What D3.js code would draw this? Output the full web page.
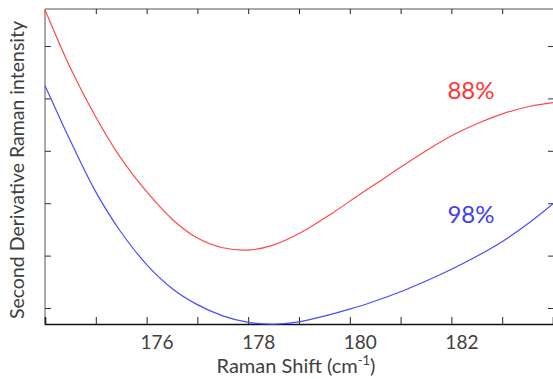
<!DOCTYPE html>
<html><head><meta charset="utf-8">
<script src="https://cdn.jsdelivr.net/npm/d3@7"></script>
<style>body{margin:0;background:#fff}svg{display:block}</style>
</head><body>
<script>
// Data (arbitrary intensity units)
const shift88 = [174.00,174.49,174.98,175.48,176.01,176.52,176.99,177.50,178.04,178.49,179.02,179.67,180.20,180.59,180.99,181.52,182.03,182.56,183.02,183.55,184.00];
const int88   = [5.69,4.60,3.68,2.88,2.21,1.68,1.34,1.15,1.11,1.20,1.43,1.82,2.17,2.42,2.68,3.01,3.30,3.54,3.71,3.85,3.92];
const shift98 = [174.00,174.10,174.49,174.98,175.48,176.01,176.52,176.99,177.50,177.98,178.49,178.96,179.55,180.00,180.40,181.05,181.72,182.37,183.02,183.55,184.00];
const int98   = [4.24,4.03,3.21,2.25,1.47,0.82,0.36,0.07,-0.15,-0.27,-0.31,-0.27,-0.14,-0.02,0.10,0.33,0.61,0.92,1.28,1.64,1.99];
const xTicks = [174,175,176,177,178,179,180,181,182,183,184];
const xTickLabels = [176,178,180,182];
const yTicks = [0,1,2,3,4,5];
const seriesNames = ["88%","98%"];

const W=553,H=379;
const svg=d3.select("body").append("svg").attr("width",W).attr("height",H);
const x=d3.scaleLinear().domain([174,184]).range([45,553]);
const y=d3.scaleLinear().domain([-0.305,5.706]).range([324,9]);
const font="Lato, 'Liberation Sans', sans-serif";

// frame lines
svg.append("line").attr("x1",45).attr("x2",553).attr("y1",y(5.706)).attr("y2",y(5.706)).attr("stroke","#8c8c8c").attr("stroke-width",1.5);
svg.append("line").attr("x1",45).attr("x2",45).attr("y1",9).attr("y2",324).attr("stroke","#8c8c8c").attr("stroke-width",1.5);

// bottom axis
const gx=svg.append("g").attr("transform","translate(0,324)")
  .call(d3.axisBottom(x).tickValues(xTicks).tickSize(-7).tickFormat(d=>xTickLabels.includes(d)?d:""));
gx.select(".domain").attr("stroke","#111").attr("stroke-width",1.6);
gx.selectAll(".tick line").attr("stroke","#222");
gx.selectAll(".tick text").attr("font-family",font).attr("font-size",19).attr("fill","#404040")
  .attr("dx",10).attr("dy",0).attr("y",25);

// top ticks
const gt=svg.append("g").attr("transform","translate(0,9)")
  .call(d3.axisTop(x).tickValues(xTicks.slice(1,-1)).tickSize(-5).tickFormat(""));
gt.select(".domain").remove();
gt.selectAll(".tick line").attr("stroke","#222");

// left ticks
const gl=svg.append("g").attr("transform","translate(45,0)")
  .call(d3.axisLeft(y).tickValues(yTicks).tickSize(-6).tickFormat(""));
gl.select(".domain").remove();
gl.selectAll(".tick line").attr("stroke","#333");
// right ticks
const gr=svg.append("g").attr("transform","translate(553,0)")
  .call(d3.axisRight(y).tickValues(yTicks).tickSize(-5).tickFormat(""));
gr.select(".domain").remove();
gr.selectAll(".tick line").attr("stroke","#333");

// lines
const line=d3.line().x(d=>x(d[0])).y(d=>y(d[1])).curve(d3.curveCatmullRom);
svg.append("path").datum(d3.zip(shift88,int88)).attr("d",line).attr("fill","none").attr("stroke","#ff4a4a").attr("stroke-width",1.2);
svg.append("path").datum(d3.zip(shift98,int98)).attr("d",line).attr("fill","none").attr("stroke","#4a4aff").attr("stroke-width",1.2);

// series labels
svg.append("text").attr("x",471).attr("y",99).attr("text-anchor","middle").attr("font-family",font).attr("font-size",24).attr("fill","#ff3535").text(seriesNames[0]);
svg.append("text").attr("x",471).attr("y",223).attr("text-anchor","middle").attr("font-family",font).attr("font-size",24).attr("fill","#4040ee").text(seriesNames[1]);

// axis titles
svg.append("text").attr("x",296).attr("y",373).attr("text-anchor","middle").attr("font-family",font).attr("font-size",20).attr("fill","#404040")
  .html('Raman Shift (cm<tspan dy="-8" font-size="13">-1</tspan><tspan dy="8">)</tspan>');
svg.append("text").attr("transform","translate(24,170) rotate(-90)").attr("text-anchor","middle").attr("font-family",font).attr("font-size",19.5).attr("fill","#404040")
  .text("Second Derivative Raman intensity");
</script>
</body></html>
